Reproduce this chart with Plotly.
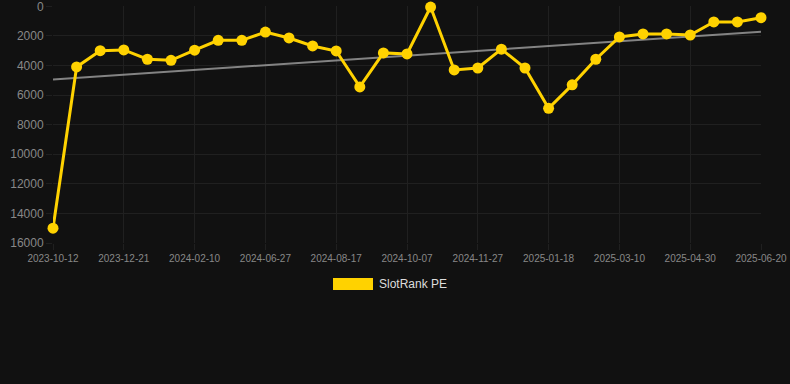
import numpy as np
import plotly.graph_objects as go

dates = [
    "2023-10-12", "2023-11-05", "2023-11-28", "2023-12-21", "2024-01-07", "2024-01-24",
    "2024-02-10", "2024-03-27", "2024-05-12", "2024-06-27", "2024-07-14", "2024-07-31",
    "2024-08-17", "2024-09-03", "2024-09-20", "2024-10-07", "2024-10-24", "2024-11-10",
    "2024-11-27", "2024-12-14", "2025-01-01", "2025-01-18", "2025-02-04", "2025-02-21",
    "2025-03-10", "2025-03-27", "2025-04-13", "2025-04-30", "2025-05-17", "2025-06-03",
    "2025-06-20",
]
rank = [
    15000, 4100, 3000, 2950, 3580, 3650,
    2970, 2300, 2300, 1740, 2140, 2680,
    3020, 5450, 3150, 3220, 50, 4300,
    4170, 2900, 4170, 6900, 5310, 3580,
    2070, 1870, 1870, 1940, 1060, 1060,
    770,
]
tick_labels = dates[::3]
y_ticks = [0, 2000, 4000, 6000, 8000, 10000, 12000, 14000, 16000]
series_name = "SlotRank PE"

idx = np.arange(len(rank))
slope, intercept = np.polyfit(idx, rank, 1)
trend = slope * idx + intercept

fig = go.Figure()
fig.add_trace(go.Scatter(
    x=dates, y=trend, mode="lines",
    line=dict(color="rgba(170,170,170,0.75)", width=2),
    hoverinfo="skip", showlegend=False,
))
fig.add_trace(go.Scatter(
    x=dates, y=rank, mode="lines+markers", name=series_name,
    line=dict(color="#FFD200", width=3),
    marker=dict(color="#FFD200", size=11),
    cliponaxis=False,
    showlegend=False,
))

# legend drawn as box + label
fig.add_shape(type="rect", xref="paper", yref="paper",
              x0=(333 - 53) / 708, x1=(373 - 53) / 708,
              y0=(243 - 290) / 237, y1=(243 - 278) / 237,
              fillcolor="#FFD200", line=dict(width=0))
fig.add_annotation(text=series_name, xref="paper", yref="paper",
                   x=(377 - 53) / 708, y=(243 - 284) / 237,
                   xanchor="left", yanchor="middle", showarrow=False,
                   font=dict(size=12, color="#dddddd", family="Liberation Sans, Arial"))

fig.update_layout(
    width=790, height=384,
    margin=dict(l=53, r=29, t=6, b=141),
    paper_bgcolor="#111111", plot_bgcolor="#111111",
    font=dict(family="Liberation Sans, Arial, sans-serif", color="#888888"),
    showlegend=False,
)
fig.update_xaxes(
    type="category", tickmode="array", tickvals=tick_labels, ticktext=tick_labels,
    range=[0, len(dates) - 1], automargin=False,
    showgrid=True, gridcolor="#202020", gridwidth=1,
    zeroline=False, showline=False,
    tickfont=dict(size=10, color="#888888"),
    ticks="outside", ticklen=6, tickcolor="#202020",
)
fig.update_yaxes(
    range=[16000, -20], tickvals=y_ticks, tickformat="d", automargin=False,
    ticklabeloverflow="allow",
    showgrid=True, gridcolor="#202020", gridwidth=1,
    zeroline=False, showline=False,
    tickfont=dict(size=12, color="#888888"),
    ticks="outside", ticklen=6, tickcolor="#202020",
)
fig.write_html(
    "out.html",
    config={"displayModeBar": False},
    post_script="document.body.style.margin='0';document.body.style.background='#111111';",
)
